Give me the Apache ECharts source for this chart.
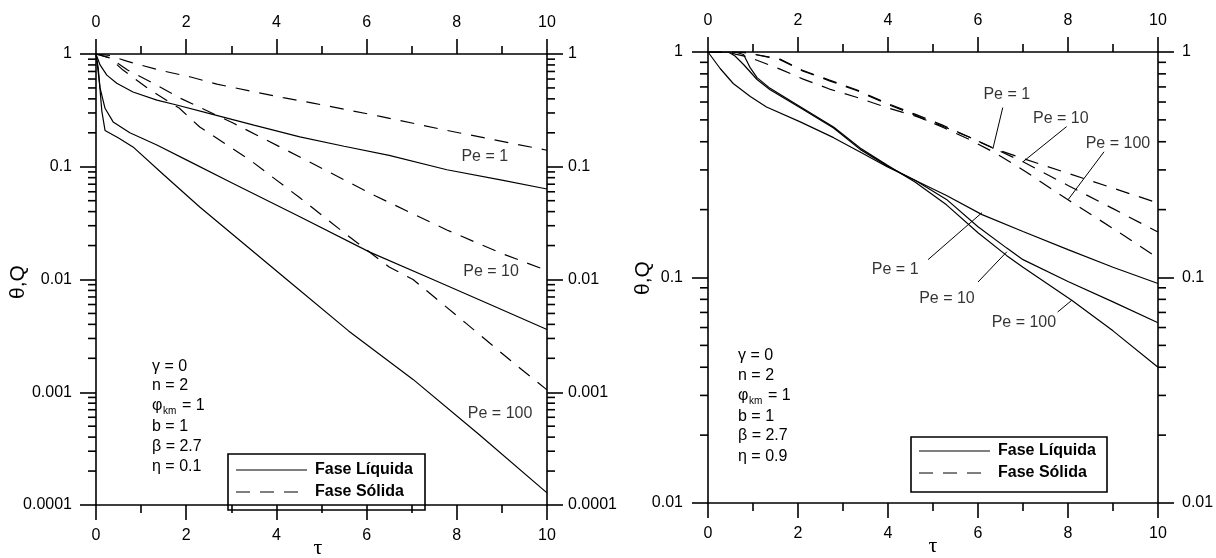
<!DOCTYPE html>
<html>
<head>
<meta charset="utf-8">
<script src="https://cdn.jsdelivr.net/npm/echarts@6/dist/echarts.min.js"></script>
<style>
  html, body { margin: 0; padding: 0; background: #fff; }
  #chart { width: 1216px; height: 558px; }
</style>
</head>
<body>
<div id="chart"></div>
<script>
// ---- left panel (eta = 0.1) ----
// fase liquida (solid)
const L_liq1_x = [0, 0.09, 0.24, 0.46, 0.82, 1.35, 1.79, 2.46, 3.5, 4.52, 5.5, 6.5, 7.78, 9, 10];
const L_liq1_y = [1, 0.8, 0.65, 0.55, 0.46, 0.39, 0.353, 0.30, 0.234, 0.184, 0.152, 0.126, 0.094, 0.076, 0.0635];
const L_liq10_x = [0, 0.03, 0.09, 0.2, 0.38, 0.75, 1.35, 2.08, 3.04, 4.52, 6.07, 7.47, 8.7, 10];
const L_liq10_y = [1, 0.8, 0.5, 0.33, 0.25, 0.2, 0.156, 0.111, 0.071, 0.036, 0.0175, 0.0100, 0.0061, 0.0036];
const L_liq100_x = [0, 0.05, 0.13, 0.2, 0.5, 0.82, 1.5, 2.3, 4.23, 5.6, 7.03, 8.5, 10];
const L_liq100_y = [1, 0.75, 0.31, 0.21, 0.18, 0.15, 0.085, 0.044, 0.0100, 0.0035, 0.0013, 0.00042, 0.000128];
// fase solida (dashed)
const L_sol1_x = [0, 0.3, 0.7, 1.4, 2.1, 2.68, 4.15, 4.81, 6.3, 7.78, 10];
const L_sol1_y = [1, 0.97, 0.86, 0.72, 0.625, 0.54, 0.41, 0.367, 0.28, 0.21, 0.14];
const L_sol10_x = [0, 0.3, 0.7, 1.27, 1.9, 3.04, 4.52, 6.2, 7.78, 9, 10];
const L_sol10_y = [1, 0.93, 0.72, 0.55, 0.40, 0.244, 0.122, 0.055, 0.0275, 0.017, 0.012];
const L_sol100_x = [0, 0.3, 0.6, 1.2, 1.85, 2.3, 3.41, 4.52, 5.5, 6.5, 7.03, 8.2, 9.2, 10];
const L_sol100_y = [1, 0.92, 0.72, 0.48, 0.33, 0.225, 0.115, 0.053, 0.026, 0.0129, 0.0100, 0.0041, 0.0019, 0.00105];

// ---- right panel (eta = 0.9) ----
const R_liq1_x = [0, 0.27, 0.56, 0.94, 1.3, 2.05, 2.79, 3.38, 3.98, 4.6, 5.3, 6.09, 7, 8, 9, 10];
const R_liq1_y = [1, 0.845, 0.725, 0.635, 0.57, 0.49, 0.417, 0.36, 0.31, 0.27, 0.231, 0.19, 0.16, 0.133, 0.111, 0.094];
const R_liq10_x = [0, 0.45, 0.6, 0.79, 1.09, 1.38, 2.05, 2.79, 3.38, 3.98, 4.6, 5.3, 6.0, 6.64, 7, 8, 9, 10];
const R_liq10_y = [1, 1, 0.96, 0.88, 0.755, 0.68, 0.566, 0.46, 0.37, 0.312, 0.27, 0.222, 0.168, 0.135, 0.12, 0.096, 0.078, 0.063];
const R_liq100_x = [0, 0.6, 0.79, 0.94, 1.09, 1.38, 2.05, 2.79, 3.38, 3.98, 4.6, 5.3, 6.0, 6.64, 7, 8.09, 9, 10];
const R_liq100_y = [1, 1, 0.975, 0.85, 0.77, 0.69, 0.572, 0.465, 0.375, 0.315, 0.265, 0.21, 0.158, 0.125, 0.111, 0.079, 0.058, 0.040];
const R_sol1_x = [0, 0.4, 0.9, 1.6, 2.1, 2.7, 3.3, 4.0, 4.6, 5.2, 5.8, 6.33, 7, 8, 9, 10];
const R_sol1_y = [1, 1, 0.95, 0.84, 0.76, 0.685, 0.63, 0.565, 0.52, 0.47, 0.42, 0.375, 0.337, 0.29, 0.249, 0.214];
const R_sol10_x = [0, 0.7, 1.0, 1.6, 2.1, 2.7, 3.3, 4.0, 4.6, 5.2, 5.8, 6.4, 7, 8, 9, 10];
const R_sol10_y = [1, 1, 0.98, 0.93, 0.83, 0.75, 0.68, 0.59, 0.53, 0.475, 0.42, 0.37, 0.326, 0.256, 0.202, 0.159];
const R_sol100_x = [0, 0.8, 1.1, 1.6, 2.1, 2.7, 3.3, 4.0, 4.6, 5.2, 5.8, 6.4, 7, 8, 9, 10];
const R_sol100_y = [1, 1, 0.97, 0.925, 0.825, 0.745, 0.675, 0.585, 0.525, 0.465, 0.41, 0.355, 0.30, 0.221, 0.165, 0.122];

// axis ticks
const xTicks = [0, 2, 4, 6, 8, 10];
const yDecadesL = [0.0001, 0.001, 0.01, 0.1, 1];
const yDecadesR = [0.01, 0.1, 1];

const FONT = 'Liberation Sans, Arial, sans-serif';
const zip = (xs, ys) => xs.map((x, i) => [x, ys[i]]);

// minor ticks 2..9 inside each decade (log axis decoration)
function minorOf(decades) {
  const out = [];
  for (let i = 0; i < decades.length - 1; i++) {
    for (let k = 2; k <= 9; k++) out.push([0, +(decades[i] * k).toPrecision(2)]);
  }
  return out;
}

function xAx(grid, pos) {
  return {
    type: 'value', gridIndex: grid, position: pos,
    min: xTicks[0], max: xTicks[xTicks.length - 1], interval: 2,
    axisLine: { show: true, onZero: false, lineStyle: { color: '#000', width: 1.6 } },
    axisTick: { show: true, length: 15, lineStyle: { color: '#000', width: 1.6 } },
    minorTick: { show: true, splitNumber: 2, length: 8, lineStyle: { color: '#000', width: 1.6 } },
    axisLabel: { margin: 23, color: '#000', fontSize: 16, fontFamily: FONT },
    splitLine: { show: false }, minorSplitLine: { show: false }
  };
}

function yAx(grid, pos, decades, margin) {
  return {
    type: 'log', logBase: 10, gridIndex: grid, position: pos,
    min: decades[0], max: decades[decades.length - 1],
    axisLine: { show: true, onZero: false, lineStyle: { color: '#000', width: 1.6 } },
    axisTick: { show: true, length: 16, lineStyle: { color: '#000', width: 1.6 } },
    minorTick: { show: false },
    axisLabel: {
      margin: margin, color: '#000', fontSize: 16, fontFamily: FONT,
      formatter: v => String(+(+v).toPrecision(1))
    },
    splitLine: { show: false }
  };
}

function curve(name, xs, ys, xi, yi, dashed) {
  return {
    name: name, type: 'line', xAxisIndex: xi, yAxisIndex: yi,
    data: zip(xs, ys), symbol: 'none', silent: true, animation: false,
    lineStyle: { color: '#000', width: 1.2, type: dashed ? [14, 10] : 'solid' }
  };
}

function minorSeries(decades, xi, yi) {
  return {
    type: 'custom', xAxisIndex: xi, yAxisIndex: yi, silent: true, clip: false,
    animation: false, encode: { x: 0, y: 1 },
    data: minorOf(decades),
    renderItem: function (params, api) {
      const v = api.value(1);
      const a = api.coord([0, v]);
      const b = api.coord([10, v]);
      const st = { stroke: '#000', lineWidth: 1.6 };
      return {
        type: 'group', children: [
          { type: 'line', shape: { x1: a[0] - 8, y1: a[1], x2: a[0], y2: a[1] }, style: st },
          { type: 'line', shape: { x1: b[0], y1: b[1], x2: b[0] + 8, y2: b[1] }, style: st }
        ]
      };
    }
  };
}

function label(text, x, y, xi, yi) {
  return {
    type: 'scatter', xAxisIndex: xi, yAxisIndex: yi, silent: true, animation: false,
    data: [[x, y]], symbolSize: 1, itemStyle: { color: 'rgba(0,0,0,0)' },
    label: { show: true, position: 'inside', formatter: text, color: '#000', fontSize: 16, fontFamily: FONT }
  };
}

function pointer(p, q, xi, yi) {
  return {
    type: 'line', xAxisIndex: xi, yAxisIndex: yi, silent: true, animation: false,
    data: [p, q], symbol: 'none', lineStyle: { color: '#000', width: 1 }
  };
}

function txt(s, x, y, opts) {
  return {
    type: 'text', x: x, y: y, silent: true,
    style: Object.assign({
      text: s, fill: '#000', font: '16px ' + FONT,
      verticalAlign: 'middle', textVerticalAlign: 'middle'
    }, opts || {})
  };
}

function params(x, ys, eta) {
  return [
    txt('γ = 0', x, ys[0]),
    txt('n = 2', x, ys[1]),
    txt('φ', x, ys[2]),
    txt('km', x + 11, ys[2] + 5, { font: '10px ' + FONT }),
    txt('= 1', x + 30, ys[2]),
    txt('b = 1', x, ys[3]),
    txt('β = 2.7', x, ys[4]),
    txt('η = ' + eta, x, ys[5])
  ];
}

function legendBox(x, y, w, h, row1, row2) {
  const bold = 'bold 16px ' + FONT;
  return [
    { type: 'rect', shape: { x: x, y: y, width: w, height: h }, style: { fill: 'none', stroke: '#000', lineWidth: 1.6 } },
    { type: 'line', shape: { x1: x + 8, y1: row1, x2: x + 79, y2: row1 }, style: { stroke: '#000', lineWidth: 1.2 } },
    { type: 'line', shape: { x1: x + 8, y1: row2, x2: x + 79, y2: row2 }, style: { stroke: '#000', lineWidth: 1.2, lineDash: [14, 10] } },
    txt('Fase Líquida', x + 87, row1, { font: bold }),
    txt('Fase Sólida', x + 87, row2, { font: bold })
  ];
}

// axis titles: tau under the bottom axis, theta,Q rotated at the left
function titles(tx, ty, qx, qy) {
  return [
    txt('τ', tx, ty, { font: '22px Liberation Serif, serif', align: 'center', textAlign: 'center' }),
    Object.assign(txt('θ,Q', qx, qy, { font: '21px ' + FONT, align: 'center', textAlign: 'center' }), { rotation: Math.PI / 2 })
  ];
}

const chart = echarts.init(document.getElementById('chart'), null, { renderer: 'canvas' });

chart.setOption({
  animation: false,
  backgroundColor: '#fff',
  grid: [
    { left: 96, top: 54, width: 451, height: 451, outerBoundsMode: 'none' },
    { left: 708, top: 52, width: 450, height: 451, outerBoundsMode: 'none' }
  ],
  xAxis: [xAx(0, 'bottom'), xAx(0, 'top'), xAx(1, 'bottom'), xAx(1, 'top')],
  yAxis: [
    yAx(0, 'left', yDecadesL, 24), yAx(0, 'right', yDecadesL, 21),
    yAx(1, 'left', yDecadesR, 25), yAx(1, 'right', yDecadesR, 24)
  ],
  series: [
    curve('Fase Líquida', L_liq1_x, L_liq1_y, 0, 0, false),
    curve('Fase Líquida', L_liq10_x, L_liq10_y, 0, 0, false),
    curve('Fase Líquida', L_liq100_x, L_liq100_y, 0, 0, false),
    curve('Fase Sólida', L_sol1_x, L_sol1_y, 0, 0, true),
    curve('Fase Sólida', L_sol10_x, L_sol10_y, 0, 0, true),
    curve('Fase Sólida', L_sol100_x, L_sol100_y, 0, 0, true),
    curve('Fase Líquida', R_liq1_x, R_liq1_y, 2, 2, false),
    curve('Fase Líquida', R_liq10_x, R_liq10_y, 2, 2, false),
    curve('Fase Líquida', R_liq100_x, R_liq100_y, 2, 2, false),
    curve('Fase Sólida', R_sol1_x, R_sol1_y, 2, 2, true),
    curve('Fase Sólida', R_sol10_x, R_sol10_y, 2, 2, true),
    curve('Fase Sólida', R_sol100_x, R_sol100_y, 2, 2, true),
    minorSeries(yDecadesL, 0, 0),
    minorSeries(yDecadesR, 2, 2),
    // Pe labels, left panel
    label('Pe = 1', 8.62, 0.122, 0, 0),
    label('Pe = 10', 8.76, 0.0117, 0, 0),
    label('Pe = 100', 8.96, 0.00065, 0, 0),
    // Pe labels and pointers, right panel
    label('Pe = 1', 6.64, 0.648, 2, 2),
    label('Pe = 10', 7.84, 0.506, 2, 2),
    label('Pe = 100', 9.11, 0.392, 2, 2),
    label('Pe = 1', 4.16, 0.108, 2, 2),
    label('Pe = 10', 5.31, 0.081, 2, 2),
    label('Pe = 100', 7.02, 0.0628, 2, 2),
    pointer([6.55, 0.567], [6.33, 0.372], 2, 2),
    pointer([7.97, 0.467], [7.0, 0.326], 2, 2),
    pointer([8.8, 0.361], [8.0, 0.221], 2, 2),
    pointer([4.89, 0.12], [6.09, 0.194], 2, 2),
    pointer([6.0, 0.0955], [6.64, 0.13], 2, 2),
    pointer([7.77, 0.0703], [8.09, 0.0794], 2, 2)
  ],
  graphic: [].concat(
    params(152, [367, 386, 406, 427, 447, 467], '0.1'),
    params(738, [356, 376, 396, 417, 436, 457], '0.9'),
    legendBox(228, 454, 197, 56, 470, 492),
    legendBox(911, 437, 196, 55, 451, 473),
    titles(318, 548, 18, 282),
    titles(933, 546, 643, 278)
  )
});
</script>
</body>
</html>
